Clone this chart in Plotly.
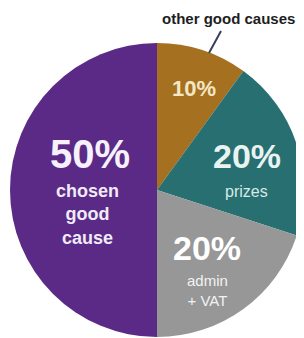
import plotly.graph_objects as go

categories = ["other good causes", "prizes", "admin + VAT", "chosen good cause"]
values = [10, 20, 20, 50]
colors = ["#a5701f", "#276f71", "#979797", "#5a2a86"]
pct_labels = ["10%", "20%", "20%", "50%"]
sub_labels = ["", "prizes", "admin<br>+ VAT", "chosen<br>good<br>cause"]

# page body has an 8px margin; work in page pixels and shift
OFF = 8
W, H = 304 - OFF, 338 - OFF
fig = go.Figure()
fig.add_trace(go.Pie(
    labels=categories, values=values, sort=False, direction="clockwise", rotation=0,
    marker=dict(colors=colors, line=dict(width=0)),
    textinfo="none", hoverinfo="label+percent", showlegend=False,
    domain=dict(x=[(10 - OFF) / W, 1.0], y=[1 - (337 - OFF) / H, 1 - (43 - OFF) / H]),
))

FONT = "Liberation Sans, Arial, sans-serif"

def px(x, y):
    return (x - OFF) / W, 1 - (y - OFF) / H

def label(x, y, text, size, color, bold=True):
    ax, ay = px(x, y)
    t = "<b>" + text + "</b>" if bold else text
    fig.add_annotation(x=ax, y=ay, xref="paper", yref="paper", text=t,
                       xanchor="center", yanchor="middle", showarrow=False, align="center",
                       borderpad=0, font=dict(family=FONT, size=size, color=color))

# (x, y, size) for percent labels
pos_pct = [(194, 88, 22), (247, 156, 34), (207, 248, 34), (90, 154, 40)]
# (x, block centre y, size, bold)
pos_sub = [None, (246, 191, 16, False), (207, 290, 15, False), (87, 214, 18, True)]
pct_colors = ["#f4e7c6", "#e9f4f2", "#ffffff", "#f6f1fb"]
sub_colors = [None, "#d8e9e6", "#f2f2f2", "#f1ebf7"]
for i in range(len(values)):
    x, y, s = pos_pct[i]
    label(x, y, pct_labels[i], s, pct_colors[i])
    if pos_sub[i]:
        x, y, s, b = pos_sub[i]
        label(x, y, sub_labels[i], s, sub_colors[i], bold=b)

# callout
label(228, 19, categories[0], 15, "#1e1e1e")
x0, y0 = px(221, 31)
x1, y1 = px(209, 53)
fig.add_shape(type="line", xref="paper", yref="paper", x0=x0, y0=y0, x1=x1, y1=y1,
              line=dict(color="#3a3f5a", width=2))

fig.update_layout(width=W, height=H, margin=dict(l=0, r=0, t=0, b=0),
                  paper_bgcolor="white", plot_bgcolor="white")
fig.write_html("out.html")
